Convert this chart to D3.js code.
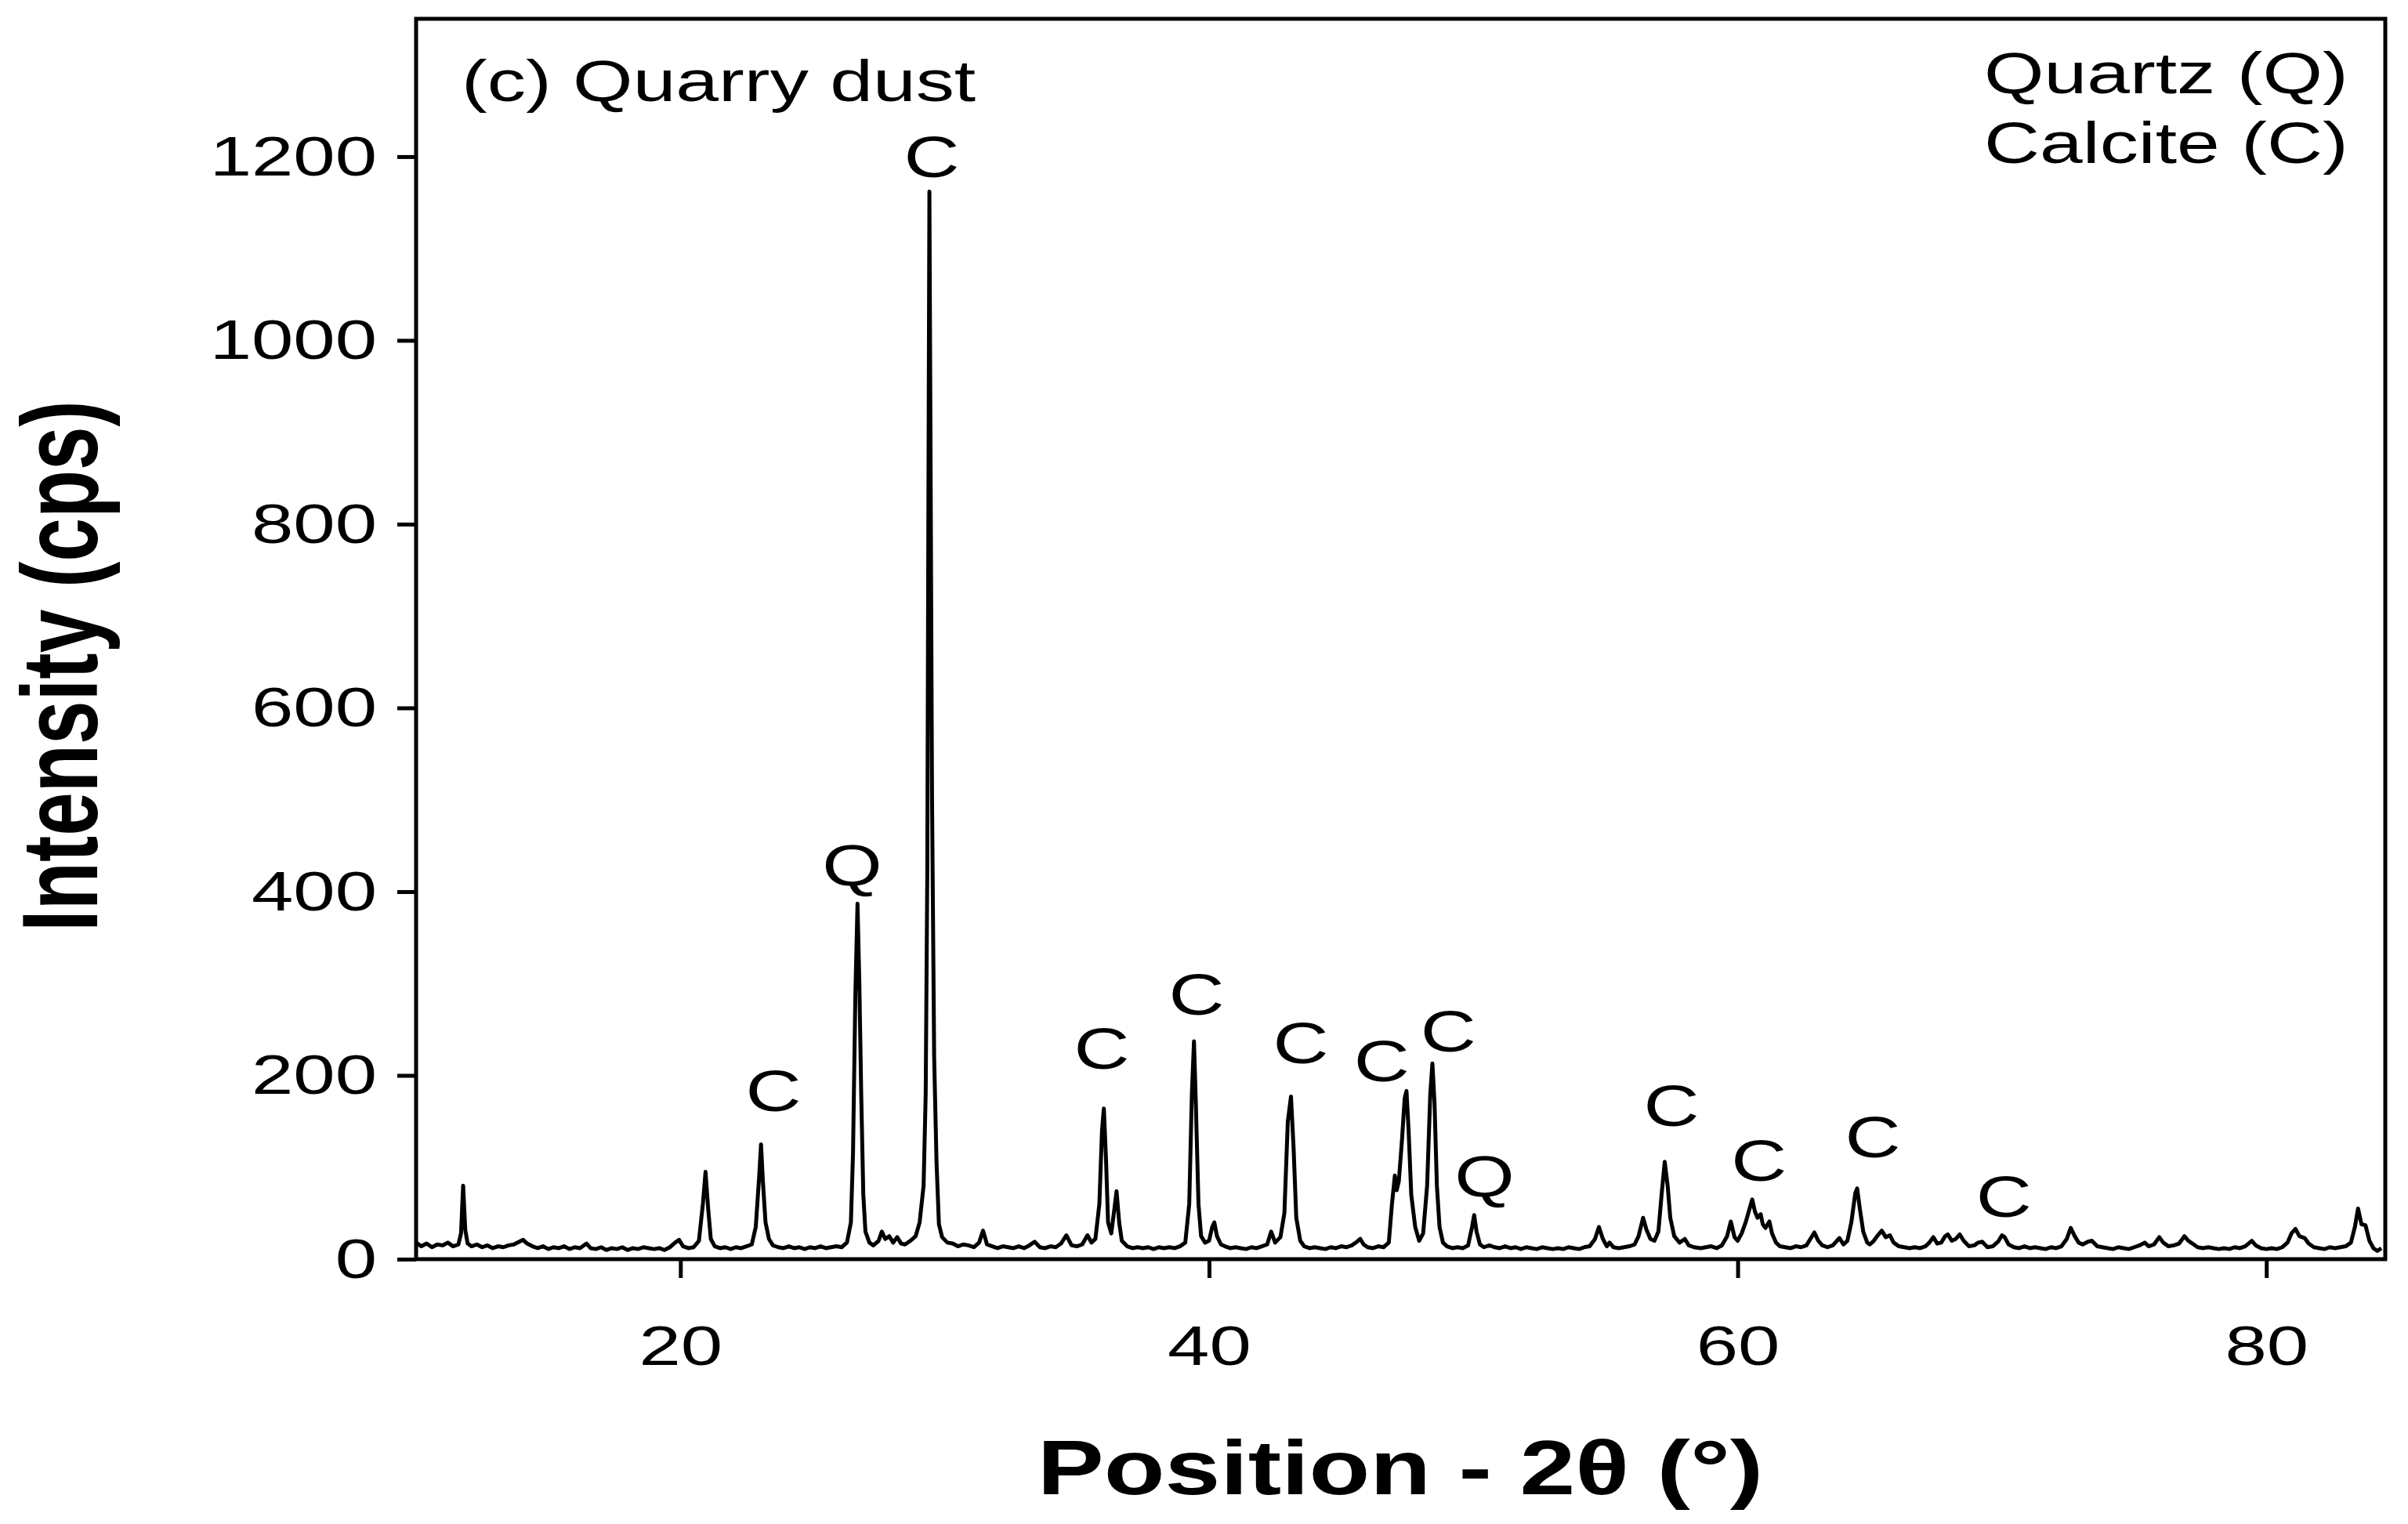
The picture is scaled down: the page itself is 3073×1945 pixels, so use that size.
<!DOCTYPE html>
<html>
<head>
<meta charset="utf-8">
<script src="https://cdn.jsdelivr.net/npm/d3@7"></script>
<style>
  body { margin: 0; background: #fff; }
  text { font-family: "Liberation Sans", Arial, sans-serif; fill: #000; }
</style>
</head>
<body>
<div id="chart"></div>
<script>
// XRD scan of quarry dust: [2theta (deg), intensity (cps)]
var scan = [
  [10.0,18],[10.2,14],[10.4,17],[10.6,13],[10.8,16],[11.0,15],[11.2,18],[11.4,14],[11.6,16],
  [11.7,28],[11.78,80],[11.86,32],[11.95,17],[12.1,14],[12.3,16],[12.5,13],[12.7,15],[12.9,12],
  [13.1,14],[13.3,13],[13.5,15],[13.7,16],[13.9,19],[14.05,21],[14.2,17],[14.4,14],[14.6,12],
  [14.8,14],[15.0,11],[15.2,13],[15.4,12],[15.6,14],[15.8,11],[16.0,13],[16.2,12],[16.45,17],
  [16.6,12],[16.8,11],[17.0,13],[17.2,10],[17.4,12],[17.6,11],[17.8,13],[18.0,10],[18.2,12],
  [18.4,11],[18.6,13],[18.8,12],[19.0,11],[19.2,12],[19.4,10],[19.6,13],[19.8,18],[19.95,21],
  [20.1,14],[20.3,12],[20.5,13],[20.7,20],[20.85,60],[20.95,95],[21.05,55],[21.15,22],[21.3,14],
  [21.5,12],[21.7,13],[21.9,11],[22.1,13],[22.3,12],[22.5,14],[22.7,16],[22.85,35],[22.98,90],
  [23.05,125],[23.12,85],[23.22,40],[23.35,22],[23.5,15],[23.7,13],[23.9,12],[24.1,14],[24.3,12],
  [24.5,13],[24.7,11],[24.9,13],[25.1,12],[25.3,14],[25.5,12],[25.7,13],[25.9,14],[26.1,13],
  [26.3,18],[26.45,40],[26.53,115],[26.62,290],[26.7,387],[26.77,300],[26.84,180],[26.92,70],
  [27.0,30],[27.15,18],[27.3,15],[27.5,20],[27.62,30],[27.75,22],[27.9,25],[28.05,18],[28.2,24],
  [28.35,17],[28.5,16],[28.7,20],[28.9,25],[29.05,40],[29.2,80],[29.28,180],[29.34,420],
  [29.38,800],[29.42,1162],[29.46,900],[29.52,500],[29.6,220],[29.69,105],[29.78,38],[29.9,24],
  [30.1,18],[30.3,17],[30.5,14],[30.7,16],[30.9,15],[31.1,13],[31.3,18],[31.45,31],[31.6,16],
  [31.8,14],[32.0,12],[32.2,14],[32.4,13],[32.6,12],[32.8,14],[33.0,12],[33.2,15],[33.4,19],
  [33.6,13],[33.8,12],[34.0,14],[34.2,13],[34.4,17],[34.6,26],[34.8,15],[35.0,14],[35.2,16],
  [35.4,26],[35.55,18],[35.7,22],[35.85,60],[35.95,140],[36.02,164],[36.1,110],[36.18,40],
  [36.3,28],[36.42,55],[36.5,74],[36.6,40],[36.7,20],[36.9,14],[37.1,12],[37.3,13],[37.5,12],
  [37.7,13],[37.9,11],[38.1,13],[38.3,12],[38.5,13],[38.7,12],[38.9,14],[39.1,18],[39.25,60],
  [39.35,180],[39.43,237],[39.5,170],[39.6,60],[39.7,25],[39.85,18],[40.0,20],[40.12,35],
  [40.2,40],[40.3,25],[40.45,16],[40.6,14],[40.8,12],[41.0,13],[41.2,12],[41.4,11],[41.6,13],
  [41.8,12],[42.0,14],[42.2,16],[42.35,30],[42.5,18],[42.7,24],[42.85,50],[42.98,150],[43.1,177],
  [43.2,120],[43.3,45],[43.45,20],[43.6,14],[43.8,12],[44.0,13],[44.2,12],[44.4,11],[44.6,13],
  [44.8,12],[45.0,14],[45.2,13],[45.4,15],[45.6,19],[45.72,22],[45.85,16],[46.0,13],[46.2,12],
  [46.4,14],[46.6,13],[46.8,18],[46.92,60],[47.03,91],[47.1,75],[47.18,85],[47.3,130],[47.4,175],
  [47.47,183],[47.55,140],[47.65,70],[47.8,35],[47.95,20],[48.1,28],[48.25,80],[48.37,180],
  [48.45,213],[48.53,170],[48.62,80],[48.72,35],[48.85,18],[49.0,14],[49.2,12],[49.4,13],
  [49.6,12],[49.8,15],[49.95,35],[50.03,48],[50.12,30],[50.25,16],[50.4,13],[50.6,15],[50.8,13],
  [51.0,12],[51.2,14],[51.4,12],[51.6,13],[51.8,11],[52.0,13],[52.2,12],[52.4,11],[52.6,13],
  [52.8,12],[53.0,11],[53.2,12],[53.4,11],[53.6,13],[53.8,12],[54.0,11],[54.2,13],[54.4,14],
  [54.6,22],[54.75,35],[54.9,22],[55.05,14],[55.15,18],[55.3,13],[55.5,12],[55.7,13],[55.9,14],
  [56.1,16],[56.25,25],[56.42,45],[56.55,32],[56.7,22],[56.85,20],[57.0,30],[57.12,70],
  [57.24,106],[57.35,80],[57.45,45],[57.6,25],[57.8,18],[58.0,22],[58.15,15],[58.35,13],
  [58.6,12],[58.8,13],[59.0,14],[59.2,12],[59.4,15],[59.6,25],[59.74,41],[59.88,24],[60.0,20],
  [60.15,28],[60.3,40],[60.45,55],[60.55,65],[60.65,52],[60.75,45],[60.87,49],[60.95,38],
  [61.05,34],[61.2,41],[61.3,28],[61.45,18],[61.6,14],[61.8,13],[62.0,12],[62.2,14],[62.4,13],
  [62.6,15],[62.75,22],[62.9,29],[63.05,20],[63.2,15],[63.4,13],[63.6,15],[63.85,23],[64.0,16],
  [64.15,20],[64.3,40],[64.45,72],[64.52,77],[64.62,55],[64.75,30],[64.9,18],[65.0,16],[65.15,20],
  [65.3,26],[65.45,31],[65.6,24],[65.76,26],[65.9,18],[66.1,14],[66.3,13],[66.5,12],[66.7,13],
  [66.9,12],[67.1,14],[67.25,18],[67.4,24],[67.55,17],[67.7,18],[67.85,25],[67.95,27],[68.1,20],
  [68.25,22],[68.4,27],[68.55,20],[68.75,14],[68.95,15],[69.1,18],[69.25,19],[69.45,13],
  [69.65,14],[69.85,19],[70.0,26],[70.1,24],[70.25,16],[70.45,13],[70.65,12],[70.85,14],
  [71.05,12],[71.25,13],[71.45,12],[71.65,11],[71.85,13],[72.05,12],[72.25,14],[72.45,22],
  [72.6,34],[72.75,25],[72.9,18],[73.05,16],[73.25,19],[73.4,20],[73.6,14],[73.8,13],[74.0,12],
  [74.2,11],[74.4,13],[74.6,12],[74.8,11],[75.0,13],[75.2,15],[75.4,18],[75.55,14],[75.75,16],
  [75.95,24],[76.1,18],[76.3,14],[76.5,15],[76.7,17],[76.9,25],[77.05,20],[77.2,17],[77.4,13],
  [77.6,12],[77.8,13],[78.0,12],[78.2,11],[78.4,12],[78.6,11],[78.8,13],[79.0,12],[79.2,14],
  [79.45,20],[79.6,15],[79.8,12],[80.0,11],[80.2,12],[80.4,11],[80.6,13],[80.8,18],[80.95,28],
  [81.1,33],[81.25,25],[81.45,23],[81.6,17],[81.8,13],[82.0,12],[82.2,11],[82.4,13],[82.6,12],
  [82.8,13],[83.0,14],[83.2,18],[83.35,35],[83.47,55],[83.6,38],[83.75,37],[83.9,20],[84.05,12],
  [84.2,9],[84.35,12]
];

// phase labels over the peaks
var peakText  = ["C", "Q", "C", "C", "C", "C", "C", "C", "Q", "C", "C", "C", "C"];
var peakPos   = [29.51, 26.5, 23.52, 35.94, 39.53, 43.47, 46.53, 49.05, 50.42, 57.49, 60.81, 65.11, 70.07];
var peakLevel = [1178, 407, 161, 207, 266, 213, 194, 226, 68, 145, 85, 111, 46];

var yTicks = [0, 200, 400, 600, 800, 1000, 1200];
var xTicks = [20, 40, 60, 80];
var phases = ["Quartz (Q)", "Calcite (C)"];
var panelTitle = "(c) Quarry dust";

// the original figure is stretched sideways, so text gets a horizontal scale
var W = 3073, H = 1945;
var plot = {left: 531, right: 3044, top: 24, bottom: 1607};

var svg = d3.select("#chart")
  .append("svg")
    .attr("width", W)
    .attr("height", H);

var x = d3.scaleLinear()
  .domain([10, 84.5])
  .range([plot.left, plot.right]);

var y = d3.scaleLinear()
  .domain([0, 1350])
  .range([plot.bottom, plot.top]);

// pattern line
var line = d3.line()
  .x(function(d) { return x(d[0]); })
  .y(function(d) { return y(d[1]); });

svg.append("path")
  .datum(scan)
  .attr("fill", "none")
  .attr("stroke", "#000")
  .attr("stroke-width", 5)
  .attr("stroke-linejoin", "round")
  .attr("d", line);

// Y axis
var tickSx = 1.37;
var yAxis = svg.append("g")
  .attr("transform", "translate(" + plot.left + ",0)")
  .call(d3.axisLeft(y).tickValues(yTicks).tickSize(24).tickFormat(d3.format("d")));
yAxis.select(".domain").remove();
yAxis.selectAll(".tick line").attr("stroke", "#000").attr("stroke-width", 5);
yAxis.selectAll(".tick text")
  .attr("font-size", 70)
  .attr("font-family", "Liberation Sans, Arial, sans-serif")
  .attr("fill", "#000")
  .attr("x", -50 / tickSx)
  .attr("dy", "0.33em")
  .attr("transform", "scale(" + tickSx + ",1)");

// X axis
var xAxis = svg.append("g")
  .attr("transform", "translate(0," + plot.bottom + ")")
  .call(d3.axisBottom(x).tickValues(xTicks).tickSize(24));
xAxis.select(".domain").remove();
xAxis.selectAll(".tick line").attr("stroke", "#000").attr("stroke-width", 5);
xAxis.selectAll(".tick text")
  .attr("font-size", 70)
  .attr("font-family", "Liberation Sans, Arial, sans-serif")
  .attr("fill", "#000")
  .attr("y", 135)
  .attr("dy", 0)
  .attr("transform", "scale(" + tickSx + ",1)");

// frame
svg.append("rect")
  .attr("x", plot.left)
  .attr("y", plot.top)
  .attr("width", plot.right - plot.left)
  .attr("height", plot.bottom - plot.top)
  .attr("fill", "none")
  .attr("stroke", "#000")
  .attr("stroke-width", 5);

// peak labels
svg.append("g")
  .selectAll("text")
  .data(peakText)
  .enter()
  .append("text")
    .attr("text-anchor", "middle")
    .attr("font-size", 74)
    .attr("transform", function(d, i) {
      return "translate(" + x(peakPos[i]) + "," + y(peakLevel[i]) + ") scale(1.33,1)";
    })
    .text(function(d) { return d; });

// panel title
svg.append("text")
  .attr("font-size", 74)
  .attr("transform", "translate(589,129) scale(1.33,1)")
  .text(panelTitle);

// phase key, top right
svg.append("g")
  .selectAll("text")
  .data(phases)
  .enter()
  .append("text")
    .attr("font-size", 74)
    .attr("transform", function(d, i) {
      return "translate(2532," + (119 + i * 89) + ") scale(1.33,1)";
    })
    .text(function(d) { return d; });

// x label
svg.append("text")
  .attr("text-anchor", "middle")
  .attr("font-size", 98)
  .attr("font-weight", "bold")
  .attr("transform", "translate(1787,1907) scale(1.3,1)")
  .text("Position - 2\u03B8 (\u00B0)");

// y label
svg.append("text")
  .attr("text-anchor", "middle")
  .attr("font-size", 100)
  .attr("font-weight", "bold")
  .attr("transform", "translate(124,850) scale(1.38,1) rotate(-90)")
  .text("Intensity (cps)");
</script>
</body>
</html>
